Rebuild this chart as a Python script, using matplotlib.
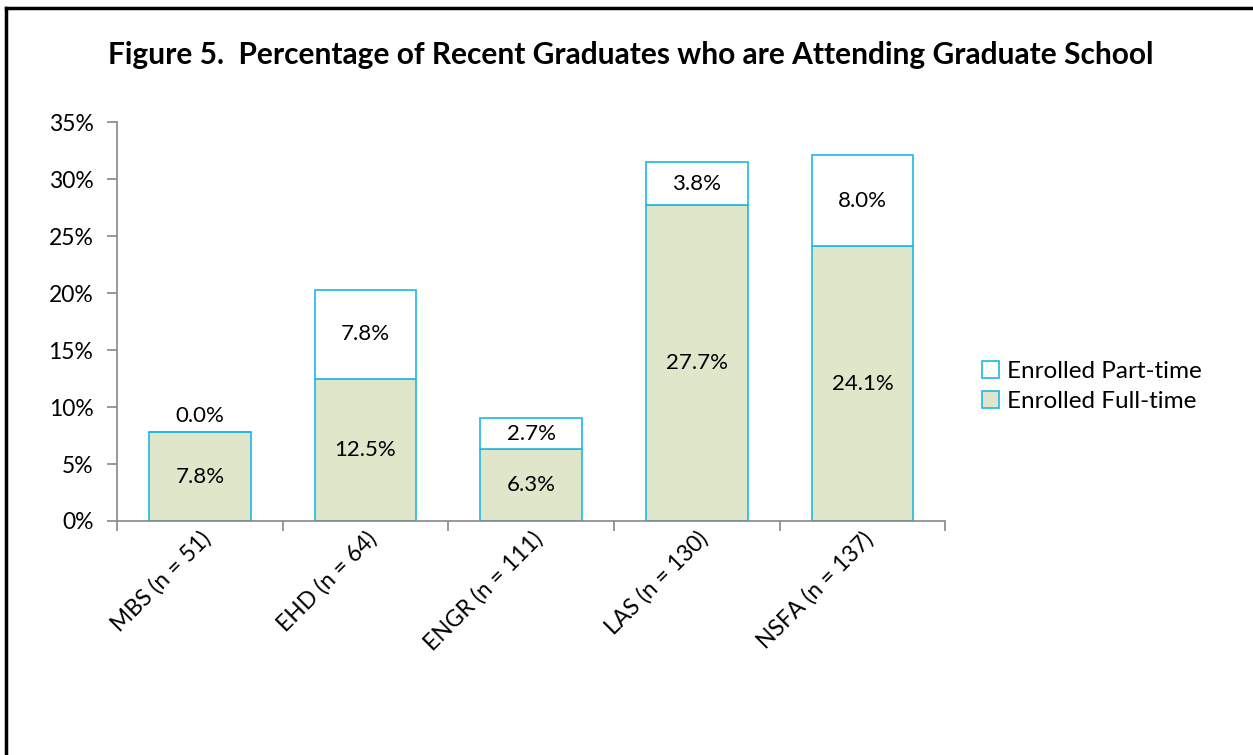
import matplotlib
matplotlib.use('Agg')
import matplotlib.pyplot as plt
import numpy as np

# data
colleges  = ['MBS (n = 51)', 'EHD (n = 64)', 'ENGR (n = 111)', 'LAS (n = 130)', 'NSFA (n = 137)']
full_time = [7.8, 12.5, 6.3, 27.7, 24.1]
part_time = [0.0, 7.8, 2.7, 3.8, 8.0]

plt.rcParams['font.family'] = ['Lato', 'DejaVu Sans']

edge_c = '#1fb8e6'
fill_ft = '#dfe6c9'

fig = plt.figure(figsize=(12.53, 7.55), dpi=100)
ax = fig.add_axes([0.0934, 0.31, 0.661, 0.528])

x = np.arange(len(colleges))
w = 0.615
ax.bar(x, full_time, w, color=fill_ft, edgecolor=edge_c, linewidth=1.2, label='Enrolled Full-time')
ax.bar(x, part_time, w, bottom=full_time, color='white', edgecolor=edge_c, linewidth=1.2,
       label='Enrolled Part-time')

# value labels
for i in range(len(colleges)):
    ax.text(x[i], full_time[i] / 2, f'{full_time[i]:.1f}%', ha='center', va='center', fontsize=16)
    if part_time[i] > 0:
        yp = full_time[i] + part_time[i] / 2
    else:
        yp = full_time[i] + 1.4
    ax.text(x[i], yp, f'{part_time[i]:.1f}%', ha='center', va='center', fontsize=16)

ax.set_xlim(-0.5, len(colleges) - 0.5)
ax.set_ylim(0, 35)
ax.set_yticks(np.arange(0, 36, 5))
ax.set_yticklabels([f'{v}%' for v in range(0, 36, 5)], fontsize=16.5)
ax.set_xticks(x)
ax.set_xticklabels(colleges, rotation=45, ha='right', rotation_mode='anchor', fontsize=16.5)
ax.tick_params(axis='x', length=0, pad=5)
ax.set_xticks(np.arange(-0.5, len(colleges)), minor=True)
ax.tick_params(axis='x', which='minor', length=7, color='#888888', width=1.2)
ax.tick_params(axis='y', length=7, color='#888888', width=1.2, pad=10)

for s in ['top', 'right']:
    ax.spines[s].set_visible(False)
for s in ['left', 'bottom']:
    ax.spines[s].set_color('#888888')
    ax.spines[s].set_linewidth(1.2)

handles, labels = ax.get_legend_handles_labels()
leg = fig.legend(handles[::-1], labels[::-1], loc='center left', bbox_to_anchor=(0.766, 0.488),
                 frameon=False, fontsize=17.5, handlelength=0.7, handleheight=0.7,
                 handletextpad=0.35, labelspacing=0.35)

fig.text(0.503, 0.927, 'Figure 5.  Percentage of Recent Graduates who are Attending Graduate School',
         ha='center', va='center', fontsize=21.5, fontweight='bold')

# frame lines (top and left)
fig.add_artist(plt.Line2D([0.005, 1.0], [0.99, 0.99], color='black', linewidth=2.5, transform=fig.transFigure))
fig.add_artist(plt.Line2D([0.005, 0.005], [0.0, 0.99], color='black', linewidth=2.5, transform=fig.transFigure))

fig.savefig('out.png', dpi=100)
